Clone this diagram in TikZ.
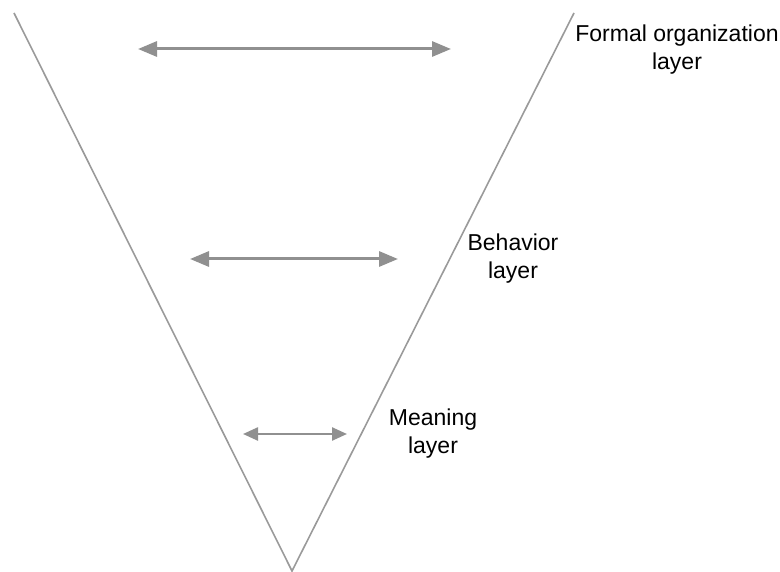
\documentclass[tikz,border=0pt]{standalone}
\usepackage{fontspec}
\setmainfont{Liberation Sans}
\usetikzlibrary{arrows.meta}
\definecolor{vgray}{HTML}{9A9A9A}
\definecolor{agray}{HTML}{909090}
\begin{document}
\begin{tikzpicture}[x=1pt,y=-1pt,
  vline/.style={draw=vgray,line width=1.6pt},
  bigarrow/.style={draw=agray,line width=3pt,{Triangle[length=19pt,width=15pt]}-{Triangle[length=19pt,width=15pt]}},
  smallarrow/.style={draw=agray,line width=2.4pt,{Triangle[length=15pt,width=13pt]}-{Triangle[length=15pt,width=13pt]}},
  lbl/.style={align=center,font=\fontsize{23}{28}\selectfont,inner sep=0pt}]
\useasboundingbox (0,0) rectangle (780,572);
\coordinate (tl) at (14,13);
\coordinate (tr) at (574,13);
\coordinate (bot) at (292,571);
\draw[vline] (tl) -- (bot) -- (tr);
\coordinate (a1l) at (138,49);
\coordinate (a1r) at (451,49);
\coordinate (a2l) at (190,259);
\coordinate (a2r) at (398,259);
\coordinate (a3l) at (243,434);
\coordinate (a3r) at (347,434);
\draw[bigarrow] (a1l) -- (a1r);
\draw[bigarrow] (a2l) -- (a2r);
\draw[smallarrow] (a3l) -- (a3r);
\node[lbl] (formal) at (677,50) {Formal organization\\layer};
\node[lbl] (behav) at (513,259) {Behavior\\layer};
\node[lbl] (mean) at (433,434) {Meaning\\layer};
\end{tikzpicture}
\end{document}
